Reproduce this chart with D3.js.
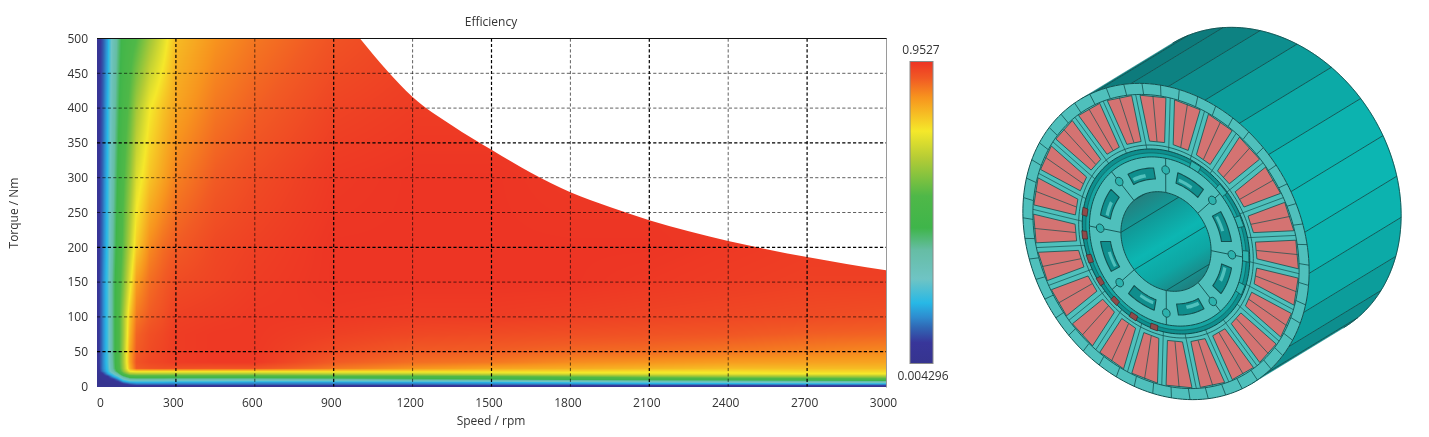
<!DOCTYPE html>
<html>
<head>
<meta charset="utf-8">
<script src="https://cdn.jsdelivr.net/npm/d3@7"></script>
<style>
    html, body { margin: 0; padding: 0; background: #fff; }
    #chart { position: relative; width: 1429px; height: 437px; overflow: hidden; filter: blur(.35px); }
    #chart canvas { position: absolute; left: 0; top: 0; }
    #chart svg { position: absolute; left: 0; top: 0; }
    text, .tick text { font-family: "Open Sans", sans-serif; font-size: 12px; fill: #333; }
</style>
</head>
<body>
<div id="chart"></div>
<script>
// data
let speeds = [0, 20, 40, 60, 80, 100, 125, 150, 200, 250, 300, 450, 600, 900, 1200, 1500, 1800, 2100, 2400, 2700, 3000];
let torques = [0, 3, 6, 10, 14, 18, 22, 26, 35, 50, 75, 100, 150, 200, 300, 400, 500];

// one row per speed, one value per torque
let efficiency = [
    [.01, .01, .01, .01, .01, .01, .01, .02, .03, .03, .03, .03, .03, .03, .03, .03, .03],
    [.01, .01, .01, .02, .03, .05, .12, .13, .13, .13, .13, .13, .13, .12, .11, .10, .09],
    [.01, .01, .02, .04, .05, .16, .20, .21, .22, .22, .22, .22, .22, .21, .20, .19, .17],
    [.01, .02, .03, .05, .16, .24, .33, .36, .37, .38, .38, .38, .38, .36, .34, .32, .30],
    [.01, .02, .04, .14, .24, .36, .46, .49, .50, .50, .50, .50, .49, .47, .44, .41, .38],
    [.01, .04, .13, .25, .37, .52, .60, .62, .63, .63, .62, .62, .58, .55, .52, .49, .46],
    [.01, .09, .18, .33, .47, .62, .74, .80, .82, .82, .80, .78, .71, .66, .60, .55, .50],
    [.02, .12, .19, .34, .48, .63, .76, .90, .91, .90, .89, .87, .83, .77, .70, .63, .53],
    [.02, .12, .19, .34, .48, .63, .76, .91, .925, .92, .915, .90, .88, .85, .78, .73, .62],
    [.02, .12, .19, .34, .48, .63, .76, .915, .93, .93, .925, .915, .90, .88, .82, .78, .70],
    [.02, .12, .18, .33, .48, .63, .76, .915, .94, .94, .94, .935, .92, .90, .86, .82, .79],
    [.02, .12, .18, .33, .48, .63, .76, .91, .945, .945, .945, .94, .93, .925, .90, .87, .84],
    [.02, .12, .17, .33, .48, .63, .76, .91, .945, .945, .945, .945, .94, .935, .92, .895, .87],
    [.02, .12, .17, .35, .49, .65, .76, .87, .90, .92, .935, .945, .95, .95, .945, .93, .91],
    [.02, .12, .18, .38, .50, .66, .76, .84, .88, .90, .925, .94, .95, .95, .95, .94, .93],
    [.02, .13, .19, .40, .52, .68, .76, .82, .87, .895, .92, .94, .95, .95, .95, .94, .94],
    [.02, .13, .22, .43, .55, .70, .76, .81, .85, .885, .915, .935, .95, .95, .945, .94, .94],
    [.02, .14, .25, .45, .58, .71, .75, .80, .84, .88, .91, .93, .945, .95, .945, .94, .94],
    [.02, .14, .27, .46, .60, .72, .75, .79, .83, .87, .905, .925, .94, .945, .94, .94, .94],
    [.02, .15, .29, .48, .61, .73, .76, .79, .825, .86, .895, .92, .935, .94, .94, .94, .94],
    [.02, .15, .30, .50, .62, .73, .76, .79, .82, .85, .89, .915, .935, .94, .94, .94, .94]
];

// torque limit curve (top edge of the coloured area), flat at 500 Nm below the first speed
let limitSpeeds = [1000, 1100, 1200, 1350, 1500, 1650, 1800, 1950, 2100, 2250, 2400, 2550, 2700, 2850, 3000];
let limitTorques = [500, 455, 416, 375, 340, 307, 279, 258, 239, 223, 209, 197, 186, 176, 167];

let speedTicks = [0, 300, 600, 900, 1200, 1500, 1800, 2100, 2400, 2700, 3000];
let torqueTicks = [0, 50, 100, 150, 200, 250, 300, 350, 400, 450, 500];

// colour bar
let colorValues = [.0043, .07, .118, .15, .194, .27, .36, .43, .53, .65, .734, .84, .90, .9527];
let colorHexes = ["#36348f", "#38369a", "#3068b5", "#2e8ccf", "#27b8e6", "#6fc4c4", "#66bda5", "#3fb54a", "#4fb848", "#b5cc35", "#f5e82a", "#f7941e", "#f15a24", "#ed3324"];
let colorLabels = ["0.9527", "0.004296"];

// motor drawing, proportions of the outer radius
let rotorPoleAngles = [8.6, 53.6, 98.6, 143.6, 188.6, 233.6, 278.6, 323.6];
let slotOpeningAngles = [225, 240, 255, 270, 285, 300, 315];
let toothBlockAngles = [32, 54.5, 77, 99.5, 122];

const width = 1429, height = 437;

let margin = {left: 97, right: 886, top: 38.5, bottom: 386.5};
let x = d3.scaleLinear().domain([0, 3000]).range([margin.left, margin.right]);
let y = d3.scaleLinear().domain([0, 500]).range([margin.bottom, margin.top]);
let color = d3.scaleLinear().domain(colorValues).range(colorHexes).clamp(true);

let chart = d3.select("#chart");
let canvas = chart.append("canvas").attr("width", width).attr("height", height);
let svg = chart.append("svg").attr("width", width).attr("height", height);

drawHeatmap(canvas.node().getContext("2d"));
drawAxes();
drawColorBar();
drawMotor();

function lookup(axis, v) {
    let i = Math.min(Math.max(d3.bisectRight(axis, v) - 1, 0), axis.length - 2);
    return {i: i, f: (v - axis[i]) / (axis[i + 1] - axis[i])};
}

function drawHeatmap(ctx) {
    let x0 = margin.left, y0 = Math.floor(margin.top);
    let w = margin.right - margin.left, h = Math.ceil(margin.bottom) - y0;
    let img = ctx.createImageData(w, h);

    for (let py = 0; py < h; py++) {
        let t = lookup(torques, Math.max(0, y.invert(y0 + py + .5)));
        for (let px = 0; px < w; px++) {
            let s = lookup(speeds, x.invert(x0 + px + .5));
            let v = efficiency[s.i][t.i] * (1 - s.f) * (1 - t.f)
                + efficiency[s.i + 1][t.i] * s.f * (1 - t.f)
                + efficiency[s.i][t.i + 1] * (1 - s.f) * t.f
                + efficiency[s.i + 1][t.i + 1] * s.f * t.f;
            let c = d3.rgb(color(v));
            let k = (py * w + px) * 4;
            img.data[k] = c.r;
            img.data[k + 1] = c.g;
            img.data[k + 2] = c.b;
            img.data[k + 3] = 255;
        }
    }
    ctx.putImageData(img, x0, y0);

    // cut everything above the torque limit
    ctx.globalCompositeOperation = "destination-in";
    ctx.beginPath();
    d3.area()
        .x((d, i) => x(limitSpeeds[i]))
        .y0(y(0) + 1)
        .y1((d, i) => y(limitTorques[i]))
        .curve(d3.curveMonotoneX)
        .context(ctx)(limitSpeeds);
    ctx.rect(x(0), y(500) - 1, x(limitSpeeds[0]) - x(0) + .5, y(0) - y(500) + 2);
    ctx.fill();
    ctx.globalCompositeOperation = "source-over";
}

function drawAxes() {
    // dashed grid, every other line comes out darker in the original
    svg.append("g").selectAll("line")
        .data(speedTicks.slice(1, -1))
        .enter().append("line")
        .attr("x1", d => x(d)).attr("x2", d => x(d))
        .attr("y1", margin.top).attr("y2", margin.bottom)
        .attr("stroke", "#000")
        .attr("stroke-width", d => d % 600 === 300 ? 1.2 : 1)
        .attr("stroke-opacity", d => d % 600 === 300 ? 1 : .62)
        .attr("stroke-dasharray", "3.2,2.2");

    svg.append("g").selectAll("line")
        .data(torqueTicks.slice(1, -1))
        .enter().append("line")
        .attr("x1", margin.left).attr("x2", margin.right)
        .attr("y1", d => y(d)).attr("y2", d => y(d))
        .attr("stroke", "#000")
        .attr("stroke-width", d => d % 150 === 50 ? 1.2 : 1)
        .attr("stroke-opacity", d => d % 150 === 50 ? 1 : .62)
        .attr("stroke-dasharray", "3.2,2.2");

    // frame
    svg.append("line").attr("x1", margin.left).attr("x2", margin.right + 1)
        .attr("y1", margin.top).attr("y2", margin.top)
        .attr("stroke", "#111").attr("stroke-width", 1.2);
    svg.append("line").attr("x1", margin.right + .5).attr("x2", margin.right + .5)
        .attr("y1", margin.top).attr("y2", margin.bottom + 1)
        .attr("stroke", "#9a9a9a");

    let xAxis = d3.axisBottom(x).tickValues(speedTicks).tickSize(0).tickPadding(12).tickFormat(d3.format("d"));
    let yAxis = d3.axisLeft(y).tickValues(torqueTicks).tickSize(0).tickPadding(9).tickFormat(d3.format("d"));

    let gx = svg.append("g").attr("transform", `translate(0,${margin.bottom})`).call(xAxis);
    gx.select(".domain").remove();
    gx.selectAll(".tick text").attr("dx", d => d === 0 ? 3 : -3);

    let gy = svg.append("g").attr("transform", `translate(${margin.left},0)`).call(yAxis);
    gy.select(".domain").remove();

    svg.append("text").attr("x", 491).attr("y", 26).attr("text-anchor", "middle").text("Efficiency");
    svg.append("text").attr("x", 491).attr("y", 425).attr("text-anchor", "middle").text("Speed / rpm");
    svg.append("text")
        .attr("transform", "translate(18,213) rotate(-90)")
        .attr("text-anchor", "middle")
        .text("Torque / Nm");
}

function drawColorBar() {
    let barX = 910, barW = 23;
    let barY = d3.scaleLinear().domain([colorValues[0], colorValues[colorValues.length - 1]]).range([363.5, 61.5]);

    let grad = svg.append("defs").append("linearGradient")
        .attr("id", "barGrad")
        .attr("x1", 0).attr("x2", 0).attr("y1", 1).attr("y2", 0);
    grad.selectAll("stop")
        .data(colorValues)
        .enter().append("stop")
        .attr("offset", d => (d - colorValues[0]) / (colorValues[colorValues.length - 1] - colorValues[0]))
        .attr("stop-color", d => color(d));

    svg.append("rect")
        .attr("x", barX).attr("y", barY.range()[1])
        .attr("width", barW).attr("height", barY.range()[0] - barY.range()[1])
        .attr("fill", "url(#barGrad)")
        .attr("stroke", "#8a8a8a");

    svg.append("text").attr("x", 921).attr("y", 54).attr("text-anchor", "middle").text(colorLabels[0]);
    svg.append("text").attr("x", 923).attr("y", 380).attr("text-anchor", "middle").text(colorLabels[1]);
}

function drawMotor() {
    // parallel projection, circles on the front face become tilted ellipses
    let cx = 1166, cy = 241.5;
    let u = [85.5, 142.3], v = [114.8, -69], axis = [92, -56];
    let lineColor = "#12504f", faceColor = "#4fc0bc", redColor = "#d47372";

    let proj = function(r, deg, z) {
        let a = deg * Math.PI / 180;
        z = z || 0;
        return [cx + r * (Math.cos(a) * u[0] + Math.sin(a) * v[0]) + z * axis[0],
            cy + r * (Math.cos(a) * u[1] + Math.sin(a) * v[1]) + z * axis[1]];
    };
    let arc = function(r, a0, a1, z) {
        let n = Math.max(2, Math.ceil(Math.abs(a1 - a0) / 2));
        return d3.range(n + 1).map(i => proj(r, a0 + (a1 - a0) * i / n, z));
    };
    let closed = pts => "M" + pts.map(p => p[0].toFixed(2) + "," + p[1].toFixed(2)).join("L") + "Z";
    let open = pts => "M" + pts.map(p => p[0].toFixed(2) + "," + p[1].toFixed(2)).join("L");
    let ring = r => closed(arc(r, 0, 360));

    let g = svg.append("g").attr("stroke-linejoin", "round");
    let defs = svg.select("defs");

    // cylinder shell
    let edges = [0].concat(d3.range(7.5, 180, 15), [180]);
    let shade = d3.interpolateRgb("#0d7b7c", "#0cb6b2");
    d3.pairs(edges).forEach(function(p) {
        let mid = (p[0] + p[1]) / 2;
        let k = Math.max(0, Math.cos((mid - 75) * Math.PI / 180));
        g.append("path")
            .attr("d", closed(arc(1, p[0], p[1]).concat(arc(1, p[1], p[0], 1))))
            .attr("fill", shade(Math.pow(k, 1.6)))
            .attr("stroke", shade(Math.pow(k, 1.6)))
            .attr("stroke-width", .5);
    });
    edges.slice(1, -1).forEach(function(a) {
        g.append("path").attr("d", open([proj(1, a), proj(1, a, 1)]))
            .attr("stroke", lineColor).attr("stroke-width", .9).attr("fill", "none");
    });
    g.append("path").attr("d", open(arc(1, 0, 180, 1)))
        .attr("stroke", lineColor).attr("stroke-width", .9).attr("fill", "none");

    // stator face
    g.append("path").attr("d", ring(1)).attr("fill", faceColor).attr("stroke", lineColor).attr("stroke-width", 1);
    d3.range(0, 360, 7.5).forEach(function(a) {
        g.append("path").attr("d", open([proj(.93, a + 3), proj(1, a + 3)]))
            .attr("stroke", lineColor).attr("stroke-width", .8);
    });
    g.append("path").attr("d", ring(.93)).attr("fill", faceColor).attr("stroke", lineColor).attr("stroke-width", .9);

    // coils between the teeth
    let toothHalf = .03, inner = .635, outer = .925;
    d3.range(14, 374, 15).forEach(function(c) {
        let off = r => Math.asin(toothHalf / r) * 180 / Math.PI;
        let pts = [proj(inner, c - 7.5 + off(inner)), proj(outer, c - 7.5 + off(outer)),
            proj(outer, c + 7.5 - off(outer)), proj(inner, c + 7.5 - off(inner))];
        g.append("path").attr("d", closed(pts))
            .attr("fill", redColor).attr("stroke", lineColor).attr("stroke-width", .8);
        // coil side split and tooth centre line
        g.append("path").attr("d", open([proj(inner, c), proj(outer, c)]))
            .attr("stroke", lineColor).attr("stroke-width", .7);
        g.append("path").attr("d", open([proj(.61, c + 7.5), proj(.93, c + 7.5)]))
            .attr("stroke", lineColor).attr("stroke-width", .7);
    });

    // stator bore with the tooth tips around it
    g.append("path").attr("d", ring(.61)).attr("fill", faceColor).attr("stroke", lineColor).attr("stroke-width", .8);
    d3.range(6.5, 366, 15).forEach(function(c) {
        g.append("path").attr("d", open([proj(.585, c), proj(.61, c)]))
            .attr("stroke", lineColor).attr("stroke-width", .7);
    });
    g.append("path").attr("d", ring(.585)).attr("fill", "#0e8f8e").attr("stroke", "#0d4a4a").attr("stroke-width", 1);
    g.append("path").attr("d", ring(.56)).attr("fill", "#17a5a2").attr("stroke", lineColor).attr("stroke-width", .6);

    slotOpeningAngles.forEach(function(a) {
        g.append("path")
            .attr("d", closed([proj(.555, a - 2.5), proj(.59, a - 2.5), proj(.59, a + 2.5), proj(.555, a + 2.5)]))
            .attr("fill", "#8f4a4a").attr("stroke", "#3d2a2a").attr("stroke-width", .7);
    });
    toothBlockAngles.forEach(function(a) {
        g.append("path")
            .attr("d", closed([proj(.535, a - 3.5), proj(.58, a - 3.5), proj(.58, a + 3.5), proj(.535, a + 3.5)]))
            .attr("fill", "#2fb5b0").attr("stroke", lineColor).attr("stroke-width", .8);
    });

    // rotor face
    g.append("path").attr("d", ring(.535)).attr("fill", faceColor).attr("stroke", lineColor).attr("stroke-width", 1);

    rotorPoleAngles.forEach(function(a) {
        g.append("path").attr("d", open([proj(.315, a), proj(.535, a)]))
            .attr("stroke", lineColor).attr("stroke-width", .9);
        let hole = d3.range(0, 361, 30).map(function(b) {
            let p = proj(.46, a), q = b * Math.PI / 180, s = .027;
            return [p[0] + s * (Math.cos(q) * u[0] + Math.sin(q) * v[0]), p[1] + s * (Math.cos(q) * u[1] + Math.sin(q) * v[1])];
        });
        g.append("path").attr("d", closed(hole))
            .attr("fill", "#2db2ad").attr("stroke", lineColor).attr("stroke-width", .9);

        // magnet pocket between two poles
        let m = a + 22.5;
        let pocket = arc(.465, m - 12, m + 12).concat(arc(.395, m + 12, m - 12));
        g.append("path").attr("d", closed(pocket))
            .attr("fill", "#0f8e8d").attr("stroke", lineColor).attr("stroke-width", 1.1);
        let floor = arc(.432, m - 3, m + 10).concat(arc(.41, m + 10, m - 3));
        g.append("path").attr("d", closed(floor)).attr("fill", faceColor);
    });

    // rotor bore, shaded along the long axis of the ellipse
    let boreGrad = defs.append("linearGradient")
        .attr("id", "boreGrad")
        .attr("gradientUnits", "userSpaceOnUse")
        .attr("x1", cx - .315 * u[0]).attr("y1", cy - .315 * u[1])
        .attr("x2", cx + .315 * u[0]).attr("y2", cy + .315 * u[1]);
    [[0, "#24807f"], [.25, "#109c9a"], [.5, "#0cb6b2"], [.75, "#0ea6a3"], [1, "#1f7e7e"]].forEach(function(s) {
        boreGrad.append("stop").attr("offset", s[0]).attr("stop-color", s[1]);
    });
    defs.append("clipPath").attr("id", "boreClip").append("path").attr("d", ring(.315));

    g.append("path").attr("d", ring(.315)).attr("fill", "url(#boreGrad)");
    let bore = g.append("g").attr("clip-path", "url(#boreClip)");
    [188.6, 233.6, 278.6, 323.6, 8.6].forEach(function(a) {
        bore.append("path").attr("d", open([proj(.315, a), proj(.315, a, 1)]))
            .attr("stroke", lineColor).attr("stroke-width", .9);
    });
    g.append("path").attr("d", ring(.315)).attr("fill", "none").attr("stroke", lineColor).attr("stroke-width", 1);
}
</script>
</body>
</html>
